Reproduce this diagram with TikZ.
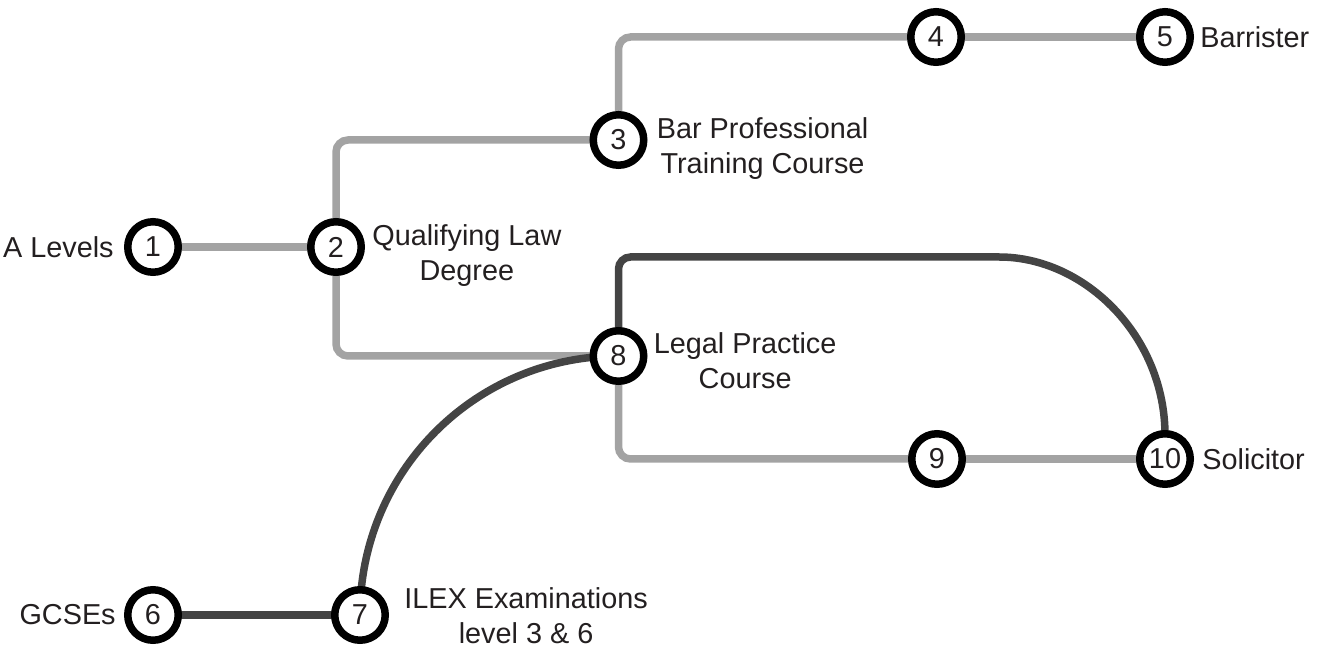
\documentclass[tikz,border=0pt]{standalone}
\usepackage{fontspec}
\setmainfont{Liberation Sans}
\usetikzlibrary{positioning,backgrounds}
\definecolor{routelight}{RGB}{163,163,163}
\definecolor{routedark}{RGB}{68,68,68}
\definecolor{labeltext}{RGB}{35,31,32}

\begin{document}
\begin{tikzpicture}[station/.style={circle,draw=black,line width=0.15cm,fill=white,minimum size=1.01cm,inner sep=0pt,font=\fontsize{16.4}{19.9}\selectfont,text=labeltext},lbl/.style={inner sep=0pt,align=center,font=\fontsize{16.4}{19.9}\selectfont,text=labeltext},light/.style={routelight,line width=0.15cm,rounded corners=0.24cm},heavy/.style={routedark,line width=0.15cm,rounded corners=0.24cm}]
\useasboundingbox (0,0) rectangle (26.6,12.96);
\node[station](n1) at (3.06,8.02){1};
\node[station](n2) at (6.72,8.02){2};
\node[station](n3) at (12.37,10.16){3};
\node[station](n4) at (18.72,12.22){4};
\node[station](n5) at (23.30,12.22){5};
\node[station](n6) at (3.06,0.66){6};
\node[station](n7) at (7.20,0.66){7};
\node[station](n8) at (12.37,5.84){8};
\node[station](n9) at (18.74,3.78){9};
\node[station](n10) at (23.30,3.78){10};
\coordinate(bend) at (19.74,7.82);
\node[lbl,left=0.2cm of n1](l1){A Levels};
\node[lbl,right=0.14cm of n2,yshift=-0.18cm](l2){Qualifying Law\\Degree};
\node[lbl,right=0.18cm of n3,yshift=-0.17cm](l3){Bar Professional\\Training Course};
\node[lbl,right=0.12cm of n5](l5){Barrister};
\node[lbl,left=0.16cm of n6](l6){GCSEs};
\node[lbl,right=0.3cm of n7,yshift=-0.02cm](l7){ILEX Examinations\\level 3 \& 6};
\node[lbl,right=0.12cm of n8,yshift=-0.1cm](l8){Legal Practice\\Course};
\node[lbl,right=0.16cm of n10](l10){Solicitor};
\begin{scope}[on background layer]
\draw[light](n1.center)--(n2.center);
\draw[light](n2.center)|-(n3.center);
\draw[light](n2.center)|-(n8.center);
\draw[light](n3.center)|-(n4.center);
\draw[light](n4.center)--(n5.center);
\draw[light](n8.center)|-(n9.center);
\draw[light](n9.center)--(n10.center);
\draw[heavy](n6.center)--(n7.center);
\draw[heavy](n7.center)to[out=90,in=180](n8.center);
\draw[heavy](n8.center)|-(bend)[sharp corners]arc[start angle=90,end angle=0,radius=3.56]--(n10.center);
\end{scope}
\end{tikzpicture}
\end{document}
